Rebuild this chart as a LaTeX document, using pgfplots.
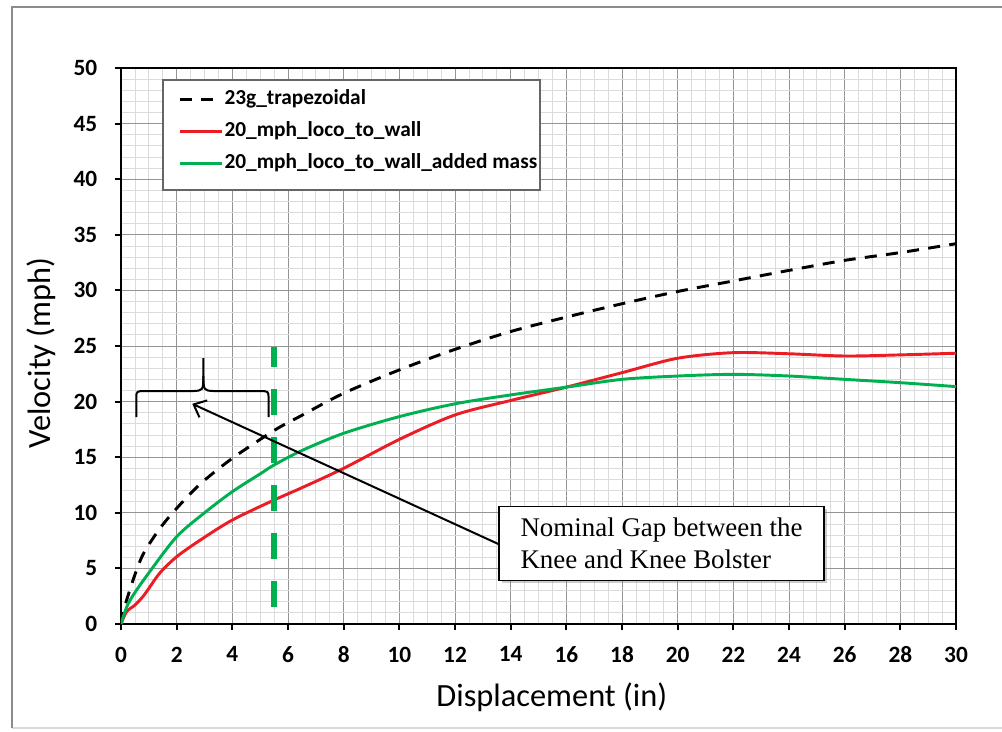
\documentclass[border=0pt]{standalone}
\usepackage{pgfplots}
\pgfplotsset{compat=1.18}
\usepackage{fontspec}
\setmainfont{Carlito}
\newfontfamily\seriffont{Liberation Serif}
\usetikzlibrary{arrows.meta,shadows}
\definecolor{cred}{RGB}{235,28,36}
\definecolor{cgreen}{RGB}{0,176,80}
\begin{document}
\begin{tikzpicture}
\useasboundingbox (-90.75pt,-80.25pt) rectangle (660.75pt,468pt);
\draw[black!15, line width=1.2pt] (-81.75pt,-78pt) -- (680pt,-78pt);
\draw[black!45, line width=1.5pt] (-81.75pt,-78pt) -- (-81.75pt,462.75pt) -- (680pt,462.75pt);
\begin{axis}[
  name=ax, at={(0,0)}, anchor=south west,
  scale only axis, width=626.25pt, height=417pt,
  xmin=0, xmax=30, ymin=0, ymax=50,
  xtick={0,2,...,30}, ytick={0,5,...,50},
  minor x tick num=3, minor y tick num=4,
  grid=both,
  major grid style={black!42, line width=0.7pt},
  minor grid style={black!14, line width=0.6pt},
  axis line style={black, line width=1.8pt},
  tick align=outside, xtick pos=left, ytick pos=left,
  major tick length=4.5pt, minor tick length=0pt,
  major tick style={black, line width=1.5pt},
  /pgf/number format/assume math mode=true,
  ticklabel style={font=\fontsize{17.5}{20}\selectfont\bfseries},
  yticklabel style={xshift=-9.75pt},
  xticklabel style={yshift=-9pt},
  xlabel={Displacement (in)}, ylabel={Velocity (mph)},
  label style={font=\fontsize{24.3}{28}\selectfont},
  xlabel style={at={(axis description cs:0.516,0)}, anchor=base, yshift=-61.5pt},
  ylabel style={at={(axis description cs:-0.085,0.4874)}, anchor=base, rotate=0},
  legend cell align=left,
  legend style={at={(0.0503,0.978)}, anchor=north west, draw=none, fill=none,
    font=\fontsize{16}{19}\selectfont\bfseries, inner xsep=2pt, inner ysep=6.75pt, row sep=9.5pt,
    nodes={inner xsep=1pt, inner ysep=0pt, text height=11pt, text depth=3.5pt}},
  legend image code/.code={\path (0pt,0pt); \draw[#1] (9.25pt,0pt) -- (40.75pt,0pt);},
]
\draw[black!60, line width=0.8pt, fill=white] (axis description cs:0.0503,0.9784) rectangle (axis description cs:0.5018,0.7806);
\addplot[black, line width=2.2pt, dash pattern=on 9pt off 7pt, smooth] coordinates {
(0,0) (0.14,1.6) (0.44,4.0) (0.8,6.3) (1.4,8.6) (2,10.4) (2.85,12.6) (4,14.9) (5.5,17.4) (6.45,18.7) (8,20.75) (10,22.85) (12,24.7) (14,26.3) (16,27.6) (18,28.8) (20,29.9) (22,30.85) (24,31.8) (26,32.7) (28,33.4) (30,34.2)};
\addlegendentry{23g\_trapezoidal}
\addplot[cred, line width=2.2pt, smooth] coordinates {
(0,0) (0.2,1.1) (0.5,1.7) (0.8,2.5) (1.0,3.2) (1.4,4.6) (2,6.05) (2.85,7.55) (4,9.35) (5.5,11.15) (6.45,12.2) (8,14.0) (10,16.6) (12,18.8) (14,20.1) (16,21.3) (18,22.6) (20,23.9) (22,24.4) (24,24.3) (26,24.1) (28,24.2) (30,24.35)};
\addlegendentry{20\_mph\_loco\_to\_wall}
\addplot[cgreen, line width=2.2pt, smooth] coordinates {
(0,0) (0.2,1.5) (0.44,2.6) (1,4.6) (2,7.85) (3,10.0) (4,11.9) (5,13.5) (5.5,14.3) (6.5,15.6) (8,17.15) (10,18.65) (12,19.8) (14,20.6) (16,21.3) (18,22.0) (20,22.3) (22,22.45) (24,22.3) (26,22.0) (28,21.7) (30,21.35)};
\addlegendentry{20\_mph\_loco\_to\_wall\_added mass}
\addplot[cgreen, line width=4.5pt, dash pattern=on 19.5pt off 16.5pt, forget plot] coordinates {(5.5,1.5) (5.5,24.9)};
% brace
\draw[black, line width=1.5pt] (axis cs:0.55,18.6) -- (axis cs:0.55,20.3) .. controls (axis cs:0.55,20.95) .. (axis cs:0.9,20.95) -- (axis cs:2.6,20.95) .. controls (axis cs:2.95,21.0) .. (axis cs:2.96,22.3) -- (axis cs:2.96,23.9);
\draw[black, line width=1.5pt] (axis cs:5.3,18.6) -- (axis cs:5.3,20.3) .. controls (axis cs:5.3,20.95) .. (axis cs:4.95,20.95) -- (axis cs:3.32,20.95) .. controls (axis cs:2.97,21.0) .. (axis cs:2.96,22.3);
\draw[black, line width=1.5pt, -{Straight Barb[length=8pt,width=14pt,line width=1.5pt]}] (axis cs:13.56,7.19) -- (axis cs:2.56,19.8);
\node[draw=black, line width=0.8pt, fill=white, drop shadow={shadow xshift=2.5pt, shadow yshift=-2.5pt, opacity=0.4},
  minimum width=243.75pt, minimum height=55.5pt, inner xsep=12pt, align=left,
  font=\seriffont\fontsize{20.2}{24}\selectfont] at (axis cs:19.42,7.28) {Nominal Gap between the\\Knee and Knee Bolster};
\end{axis}
\end{tikzpicture}
\end{document}
